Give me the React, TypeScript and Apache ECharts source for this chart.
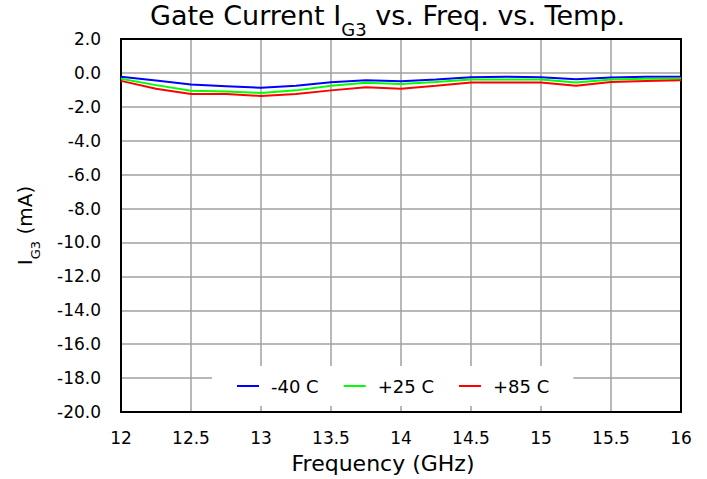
import React, { useEffect, useRef } from "react";
import * as echarts from "echarts";

const freqs = [12, 12.25, 12.5, 12.75, 13, 13.25, 13.5, 13.75, 14, 14.25, 14.5, 14.75, 15, 15.25, 15.5, 15.75, 16];
const m40 = [-0.23, -0.45, -0.68, -0.78, -0.88, -0.76, -0.55, -0.43, -0.49, -0.39, -0.25, -0.23, -0.25, -0.37, -0.27, -0.23, -0.23];
const p25 = [-0.35, -0.72, -1.05, -1.09, -1.18, -1.03, -0.76, -0.58, -0.66, -0.53, -0.39, -0.39, -0.39, -0.57, -0.39, -0.35, -0.33];
const p85 = [-0.47, -0.94, -1.25, -1.25, -1.36, -1.25, -1.03, -0.84, -0.94, -0.76, -0.57, -0.57, -0.57, -0.76, -0.53, -0.47, -0.43];
const seriesNames = ["-40 C", "+25 C", "+85 C"];
const seriesColors = ["#0000ff", "#00ff00", "#ff0000"];
const seriesValues = [m40, p25, p85];

const FONT = "'DejaVu Sans', Verdana, sans-serif";

export default function App() {
  const ref = useRef<HTMLDivElement>(null);
  useEffect(() => {
    if (!ref.current) return;
    const chart = echarts.init(ref.current, null, { renderer: "svg" });
    const option: any = {
      animation: false,
      backgroundColor: "#fff",
      textStyle: { fontFamily: FONT },
      title: {
        text: "Gate Current I{sub|G3} vs. Freq. vs. Temp.",
        left: 150,
        top: 2,
        padding: 0,
        textStyle: {
          fontFamily: FONT,
          fontSize: 27,
          fontWeight: "normal",
          color: "#000",
          rich: {
            sub: { fontFamily: FONT, fontSize: 18, color: "#000", verticalAlign: "bottom", lineHeight: 14, padding: [0, 0, -9, 0] },
          },
        },
      },
      legend: {
        data: seriesNames,
        left: 212,
        top: 366,
        padding: [11, 24, 11, 25],
        backgroundColor: "#fff",
        icon: "rect",
        itemWidth: 22,
        itemHeight: 2,
        itemGap: 25,
        textStyle: { fontFamily: FONT, fontSize: 18, color: "#000", padding: [0, 0, 0, 7] },
      },
      grid: { left: 121, right: 26, top: 39, bottom: 64, containLabel: false },
      xAxis: [
        {
          type: "value",
          min: 12,
          max: 16,
          interval: 0.5,
          name: "Frequency (GHz)",
          nameLocation: "middle",
          nameGap: 40,
          nameTextStyle: { fontFamily: FONT, fontSize: 22, color: "#000", padding: [0, 36, 0, 0] },
          axisLine: { show: true, onZero: false, lineStyle: { color: "#000", width: 2 } },
          axisTick: { show: false },
          axisLabel: { fontFamily: FONT, fontSize: 17, color: "#000", margin: 17 },
          splitLine: { show: true, lineStyle: { color: "#a0a0a0", width: 1.5 } },
        },
        {
          type: "value",
          position: "top",
          min: 12,
          max: 16,
          interval: 0.5,
          axisLine: { show: true, onZero: false, lineStyle: { color: "#000", width: 2 } },
          axisTick: { show: false },
          axisLabel: { show: false },
          splitLine: { show: false },
        },
      ],
      yAxis: [
        {
          type: "value",
          min: -20,
          max: 2,
          interval: 2,
          name: "I{sub|G3} (mA)",
          nameLocation: "middle",
          nameRotate: 90,
          nameGap: 86,
          nameTextStyle: {
            fontFamily: FONT,
            fontSize: 20,
            color: "#000",
            rich: {
              sub: { fontFamily: FONT, fontSize: 13, color: "#000", verticalAlign: "bottom", lineHeight: 12, padding: [0, 0, -7, 0] },
            },
          },
          axisLine: { show: true, onZero: false, lineStyle: { color: "#000", width: 2 } },
          axisTick: { show: false },
          axisLabel: { fontFamily: FONT, fontSize: 17, color: "#000", margin: 20, formatter: (v: number) => v.toFixed(1) },
          splitLine: { show: true, lineStyle: { color: "#a0a0a0", width: 1.5 } },
        },
        {
          type: "value",
          position: "right",
          min: -20,
          max: 2,
          interval: 2,
          axisLine: { show: true, onZero: false, lineStyle: { color: "#000", width: 2 } },
          axisTick: { show: false },
          axisLabel: { show: false },
          splitLine: { show: false },
        },
      ],
      series: seriesNames.map((name, i) => ({
        name,
        type: "line",
        xAxisIndex: 0,
        yAxisIndex: 0,
        showSymbol: false,
        symbol: "none",
        color: seriesColors[i],
        lineStyle: { color: seriesColors[i], width: 2 },
        data: freqs.map((f, j) => [f, seriesValues[i][j]]),
      })),
    };
    chart.setOption(option);
    return () => chart.dispose();
  }, []);
  return <div ref={ref} style={{ position: "fixed", left: 0, top: 0, width: 707, height: 479 }} />;
}
